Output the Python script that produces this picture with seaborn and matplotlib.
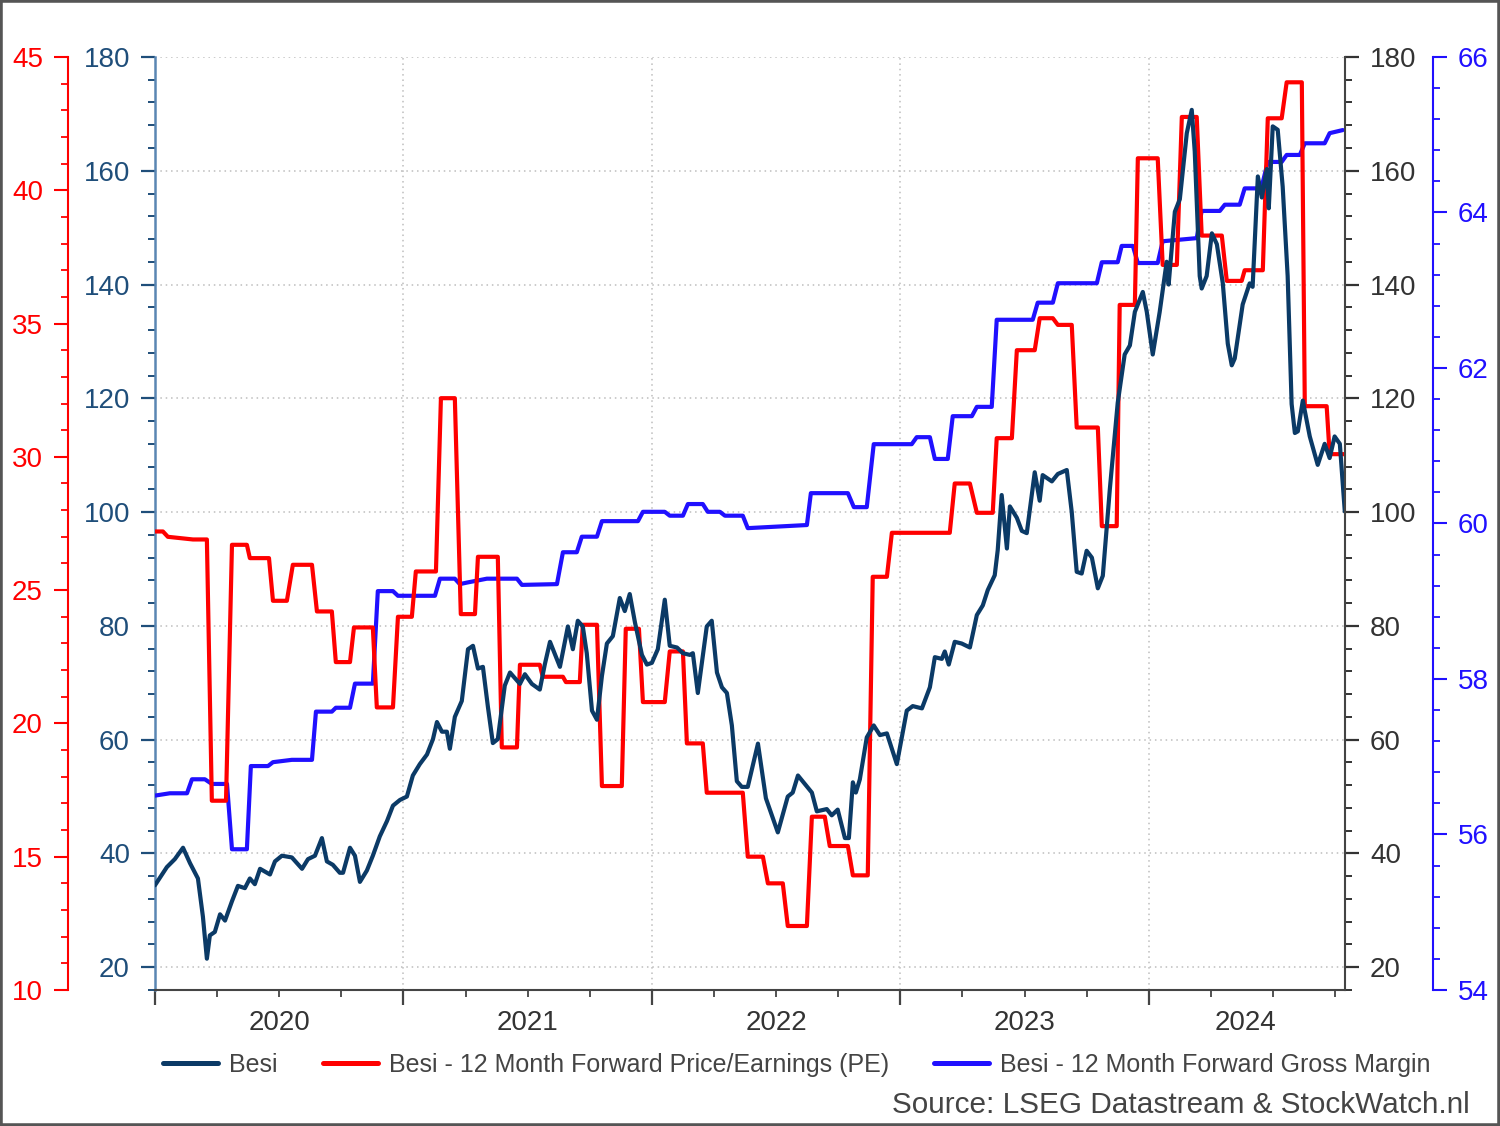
import matplotlib
matplotlib.use("Agg")
import matplotlib.pyplot as plt
from matplotlib.lines import Line2D
from matplotlib.patches import Rectangle
from matplotlib.ticker import MultipleLocator
import matplotlib.transforms as mtransforms
import numpy as np
import pandas as pd
import seaborn as sns

# ---- data (x = decimal year) ----
besi_t = [2020.000, 2020.048, 2020.080, 2020.113, 2020.141, 2020.173, 2020.193, 2020.209, 2020.221, 2020.241,
          2020.262, 2020.282, 2020.310, 2020.334, 2020.362, 2020.382, 2020.402, 2020.423, 2020.463, 2020.483,
          2020.511, 2020.551, 2020.592, 2020.616, 2020.644, 2020.672, 2020.692, 2020.716, 2020.744, 2020.757,
          2020.785, 2020.805, 2020.825, 2020.853, 2020.877, 2020.905, 2020.934, 2020.958, 2020.986, 2021.014,
          2021.038, 2021.066, 2021.095, 2021.119, 2021.135, 2021.155, 2021.175, 2021.187, 2021.207, 2021.235,
          2021.260, 2021.280, 2021.300, 2021.320, 2021.340, 2021.360, 2021.380, 2021.408, 2021.429, 2021.449,
          2021.469, 2021.489, 2021.517, 2021.549, 2021.569, 2021.590, 2021.630, 2021.662, 2021.682, 2021.702,
          2021.722, 2021.738, 2021.759, 2021.779, 2021.799, 2021.819, 2021.843, 2021.871, 2021.891, 2021.911,
          2021.932, 2021.960, 2021.980, 2022.000, 2022.024, 2022.052, 2022.072, 2022.101, 2022.125, 2022.153,
          2022.165, 2022.185, 2022.221, 2022.241, 2022.262, 2022.282, 2022.302, 2022.322, 2022.342, 2022.362,
          2022.386, 2022.427, 2022.459, 2022.507, 2022.547, 2022.567, 2022.588, 2022.644, 2022.664, 2022.704,
          2022.724, 2022.748, 2022.777, 2022.793, 2022.809, 2022.821, 2022.837, 2022.865, 2022.893, 2022.918,
          2022.946, 2022.986, 2023.026, 2023.050, 2023.087, 2023.119, 2023.139, 2023.167, 2023.179, 2023.195,
          2023.219, 2023.247, 2023.280, 2023.308, 2023.332, 2023.352, 2023.380, 2023.392, 2023.408, 2023.429,
          2023.441, 2023.469, 2023.489, 2023.509, 2023.541, 2023.561, 2023.573, 2023.610, 2023.634, 2023.670,
          2023.690, 2023.710, 2023.730, 2023.750, 2023.771, 2023.795, 2023.815, 2023.843, 2023.875, 2023.903,
          2023.924, 2023.944, 2023.976, 2023.992, 2024.016, 2024.044, 2024.072, 2024.080, 2024.105, 2024.125,
          2024.153, 2024.173, 2024.185, 2024.205, 2024.213, 2024.233, 2024.254, 2024.274, 2024.298, 2024.318,
          2024.334, 2024.346, 2024.378, 2024.406, 2024.418, 2024.439, 2024.455, 2024.475, 2024.483, 2024.499,
          2024.519, 2024.539, 2024.559, 2024.575, 2024.588, 2024.600, 2024.620, 2024.648, 2024.680, 2024.708,
          2024.728, 2024.748, 2024.769, 2024.789]
besi_price = [34.4, 37.6, 39.0, 41.0, 38.3, 35.6, 28.9, 21.5, 25.6, 26.2,
              29.3, 28.2, 31.6, 34.3, 33.9, 35.6, 34.6, 37.3, 36.3, 38.6,
              39.6, 39.3, 37.3, 39.0, 39.6, 42.7, 38.6, 38.0, 36.6, 36.6,
              41.0, 39.6, 35.0, 37.0, 39.6, 43.0, 45.7, 48.4, 49.4, 50.0,
              53.7, 55.7, 57.4, 60.1, 63.1, 61.4, 61.4, 58.4, 64.0, 66.8,
              75.9, 76.5, 72.5, 72.8, 65.8, 59.4, 60.1, 69.5, 71.8, 70.8,
              69.8, 71.5, 69.8, 68.8, 73.2, 77.2, 72.8, 79.9, 75.9, 80.9,
              79.9, 75.2, 65.1, 63.5, 71.2, 76.9, 78.2, 84.9, 82.6, 85.6,
              80.6, 74.9, 73.2, 73.5, 75.9, 84.6, 76.5, 76.2, 75.2, 74.9,
              75.2, 68.2, 79.9, 80.9, 71.8, 69.2, 68.2, 62.5, 52.7, 51.7,
              51.7, 59.3, 49.7, 43.7, 50.0, 50.7, 53.7, 50.7, 47.4, 47.8,
              46.7, 47.7, 42.7, 42.7, 52.5, 50.7, 53.0, 60.4, 62.5, 60.8,
              61.1, 55.7, 65.1, 65.9, 65.5, 69.2, 74.5, 74.2, 75.5, 73.2,
              77.2, 76.9, 76.2, 81.9, 83.6, 86.3, 88.9, 93.3, 103.0, 93.6,
              101.0, 99.0, 96.7, 96.3, 107.0, 102.0, 106.5, 105.4, 106.7, 107.4,
              100.0, 89.5, 89.2, 93.2, 92.0, 86.6, 88.8, 103.9, 119.2, 127.7,
              129.3, 135.2, 138.7, 135.2, 127.7, 135.2, 144.0, 140.0, 152.8, 155.0,
              166.6, 170.7, 163.4, 141.5, 139.3, 141.5, 149.0, 147.1, 140.2, 129.6,
              125.8, 127.0, 136.5, 140.2, 139.6, 159.0, 155.3, 160.3, 153.4, 167.8,
              167.2, 157.2, 141.5, 119.0, 113.9, 114.2, 119.6, 113.3, 108.3, 112.0,
              109.5, 113.3, 112.0, 100.1]

pe_t = [2020.000, 2020.032, 2020.052, 2020.153, 2020.209, 2020.229, 2020.286, 2020.310, 2020.370, 2020.382,
        2020.459, 2020.475, 2020.531, 2020.555, 2020.632, 2020.652, 2020.712, 2020.728, 2020.785, 2020.801,
        2020.877, 2020.893, 2020.958, 2020.978, 2021.034, 2021.050, 2021.131, 2021.151, 2021.207, 2021.231,
        2021.288, 2021.300, 2021.380, 2021.396, 2021.457, 2021.469, 2021.549, 2021.561, 2021.642, 2021.654,
        2021.710, 2021.722, 2021.779, 2021.799, 2021.879, 2021.895, 2021.948, 2021.964, 2022.052, 2022.072,
        2022.125, 2022.141, 2022.205, 2022.221, 2022.366, 2022.386, 2022.447, 2022.467, 2022.527, 2022.547,
        2022.624, 2022.644, 2022.696, 2022.716, 2022.789, 2022.809, 2022.869, 2022.889, 2022.946, 2022.966,
        2023.199, 2023.219, 2023.280, 2023.308, 2023.372, 2023.388, 2023.449, 2023.469, 2023.541, 2023.561,
        2023.614, 2023.634, 2023.690, 2023.710, 2023.795, 2023.811, 2023.871, 2023.883, 2023.944, 2023.956,
        2024.036, 2024.056, 2024.113, 2024.133, 2024.193, 2024.213, 2024.294, 2024.314, 2024.374, 2024.386,
        2024.459, 2024.479, 2024.535, 2024.555, 2024.616, 2024.628, 2024.716, 2024.728, 2024.789]
pe_value = [27.2, 27.2, 27.0, 26.9, 26.9, 17.1, 17.1, 26.7, 26.7, 26.2,
            26.2, 24.6, 24.6, 25.95, 25.95, 24.2, 24.2, 22.3, 22.3, 23.6,
            23.6, 20.6, 20.6, 24.0, 24.0, 25.7, 25.7, 32.2, 32.2, 24.1,
            24.1, 26.25, 26.25, 19.1, 19.1, 22.2, 22.2, 21.75, 21.75, 21.55,
            21.55, 23.7, 23.7, 17.65, 17.65, 23.55, 23.55, 20.8, 20.8, 22.7,
            22.7, 19.25, 19.25, 17.4, 17.4, 15.0, 15.0, 14.0, 14.0, 12.4,
            12.4, 16.5, 16.5, 15.4, 15.4, 14.3, 14.3, 25.5, 25.5, 27.15,
            27.15, 29.0, 29.0, 27.9, 27.9, 30.7, 30.7, 34.0, 34.0, 35.2,
            35.2, 34.95, 34.95, 31.1, 31.1, 27.4, 27.4, 35.7, 35.7, 41.2,
            41.2, 37.2, 37.2, 42.75, 42.75, 38.3, 38.3, 36.6, 36.6, 37.0,
            37.0, 42.7, 42.7, 44.05, 44.05, 31.9, 31.9, 30.1, 30.1]

gm_t = [2020.000, 2020.060, 2020.129, 2020.149, 2020.201, 2020.229, 2020.290, 2020.310, 2020.370, 2020.386,
        2020.455, 2020.475, 2020.551, 2020.632, 2020.648, 2020.712, 2020.728, 2020.785, 2020.805, 2020.877,
        2020.897, 2020.958, 2020.978, 2021.127, 2021.147, 2021.207, 2021.227, 2021.256, 2021.336, 2021.457,
        2021.477, 2021.618, 2021.642, 2021.698, 2021.718, 2021.779, 2021.799, 2021.944, 2021.964, 2022.052,
        2022.072, 2022.125, 2022.145, 2022.205, 2022.225, 2022.274, 2022.294, 2022.366, 2022.386, 2022.624,
        2022.640, 2022.789, 2022.813, 2022.865, 2022.893, 2023.046, 2023.066, 2023.119, 2023.139, 2023.191,
        2023.211, 2023.288, 2023.308, 2023.368, 2023.388, 2023.533, 2023.553, 2023.614, 2023.634, 2023.791,
        2023.811, 2023.875, 2023.891, 2023.936, 2023.956, 2024.036, 2024.056, 2024.193, 2024.213, 2024.286,
        2024.306, 2024.366, 2024.386, 2024.439, 2024.459, 2024.479, 2024.535, 2024.555, 2024.608, 2024.628,
        2024.708, 2024.728, 2024.781]
gm_value = [56.50, 56.53, 56.53, 56.71, 56.71, 56.65, 56.65, 55.81, 55.81, 56.88,
            56.88, 56.93, 56.96, 56.96, 57.58, 57.58, 57.63, 57.63, 57.94, 57.94,
            59.13, 59.13, 59.07, 59.07, 59.29, 59.29, 59.22, 59.24, 59.29, 59.29,
            59.21, 59.22, 59.63, 59.63, 59.83, 59.83, 60.03, 60.03, 60.15, 60.15,
            60.10, 60.10, 60.25, 60.25, 60.15, 60.15, 60.10, 60.10, 59.94, 59.98,
            60.39, 60.39, 60.21, 60.21, 61.02, 61.02, 61.11, 61.11, 60.83, 60.83,
            61.38, 61.38, 61.50, 61.50, 62.62, 62.62, 62.84, 62.84, 63.09, 63.09,
            63.36, 63.36, 63.57, 63.57, 63.35, 63.35, 63.63, 63.67, 64.02, 64.02,
            64.10, 64.10, 64.31, 64.31, 64.39, 64.65, 64.65, 64.74, 64.74, 64.89,
            64.89, 65.02, 65.06]

year_labels = ["2020", "2021", "2022", "2023", "2024"]
year_label_pos = [2020.5, 2021.5, 2022.5, 2023.5, 2024.39]
series_names = ["Besi", "Besi - 12 Month Forward Price/Earnings (PE)",
                "Besi - 12 Month Forward Gross Margin"]

besi_df = pd.DataFrame({"t": besi_t, "v": besi_price})
pe_df = pd.DataFrame({"t": pe_t, "v": pe_value})
gm_df = pd.DataFrame({"t": gm_t, "v": gm_value})

# ---- style ----
sns.set_theme(style="white")
plt.rcParams["font.family"] = ["Liberation Sans", "DejaVu Sans"]

c_besi = "#0b3a66"
c_pe = "#ff0000"
c_gm = "#2010ff"
c_left = "#1f4e7a"
c_grey = "#333333"
tick_fs = 20
lw = 3.0

fig = plt.figure(figsize=(15, 11.26), dpi=100)
ax = fig.add_axes([0.1033, 0.1208, 0.7934, 0.8286])
ax_r = ax.twinx()
ax_pe = ax.twinx()
ax_gm = ax.twinx()

for a in (ax, ax_r, ax_pe, ax_gm):
    for s in a.spines.values():
        s.set_visible(False)

# draw the series
line_kw = dict(linewidth=lw, estimator=None, sort=False, solid_joinstyle="round", solid_capstyle="round")
sns.lineplot(data=gm_df, x="t", y="v", ax=ax_gm, color=c_gm, **line_kw)
sns.lineplot(data=pe_df, x="t", y="v", ax=ax_pe, color=c_pe, **line_kw)
sns.lineplot(data=besi_df, x="t", y="v", ax=ax_r, color=c_besi, **line_kw)
ax_gm.set_zorder(1)
ax_pe.set_zorder(2)
ax_r.set_zorder(3)

# x axis
ax.set_xlim(2020, 2024.79)
ax.xaxis.set_major_locator(MultipleLocator(1))
ax.xaxis.set_minor_locator(MultipleLocator(0.25))
ax.set_xticklabels([])
ax.spines["bottom"].set_visible(True)
ax.spines["bottom"].set_color("#444444")
ax.spines["bottom"].set_linewidth(1.5)
ax.tick_params(axis="x", which="major", direction="out", length=11, width=1.6, color="#444444", bottom=True)
ax.tick_params(axis="x", which="minor", direction="out", length=5, width=1.3, color="#444444", bottom=True)
trans = mtransforms.blended_transform_factory(ax.transData, ax.transAxes)
for lab, pos in zip(year_labels, year_label_pos):
    ax.text(pos, -0.035, lab, transform=trans, ha="center", va="center", fontsize=tick_fs, color=c_grey)

# price axes (left + right)
for a in (ax, ax_r):
    a.set_ylim(16, 180)
    a.set_yticks(np.arange(20, 181, 20))
    a.yaxis.set_minor_locator(MultipleLocator(4))
    a.set_xlabel("")
    a.set_ylabel("")
ax.spines["left"].set_visible(True)
ax.spines["left"].set_color("#5a86b3")
ax.spines["left"].set_linewidth(1.8)
ax.tick_params(axis="y", which="both", direction="out", colors=c_left, labelsize=tick_fs, left=True, pad=8)
ax.tick_params(axis="y", which="major", length=10, width=1.6)
ax.tick_params(axis="y", which="minor", length=5, width=1.4)

ax_r.spines["right"].set_visible(True)
ax_r.spines["right"].set_color("#444444")
ax_r.spines["right"].set_linewidth(1.5)
ax_r.tick_params(axis="y", which="both", direction="out", colors=c_grey, labelsize=tick_fs, right=True, pad=8)
ax_r.tick_params(axis="y", which="major", length=10, width=1.6)
ax_r.tick_params(axis="y", which="minor", length=5, width=1.4)

# PE axis (outer left)
ax_pe.set_ylim(10, 45)
ax_pe.set_yticks(np.arange(10, 46, 5))
ax_pe.yaxis.set_minor_locator(MultipleLocator(1))
ax_pe.yaxis.set_ticks_position("left")
ax_pe.yaxis.set_label_position("left")
ax_pe.spines["left"].set_visible(True)
ax_pe.spines["left"].set_position(("axes", -0.0731))
ax_pe.spines["left"].set_color(c_pe)
ax_pe.spines["left"].set_linewidth(1.5)
ax_pe.tick_params(axis="y", which="both", direction="out", colors=c_pe, labelsize=tick_fs, pad=8)
ax_pe.tick_params(axis="y", which="major", length=10, width=1.5)
ax_pe.tick_params(axis="y", which="minor", length=5, width=1.3)
ax_pe.set_ylabel("")

# gross margin axis (outer right)
ax_gm.set_ylim(54, 66)
ax_gm.set_yticks(np.arange(54, 67, 2))
ax_gm.yaxis.set_minor_locator(MultipleLocator(0.4))
ax_gm.spines["right"].set_visible(True)
ax_gm.spines["right"].set_position(("axes", 1.0739))
ax_gm.spines["right"].set_color(c_gm)
ax_gm.spines["right"].set_linewidth(1.5)
ax_gm.tick_params(axis="y", which="both", direction="out", colors=c_gm, labelsize=tick_fs, right=True, pad=8)
ax_gm.tick_params(axis="y", which="major", length=10, width=1.5)
ax_gm.tick_params(axis="y", which="minor", length=5, width=1.3)
ax_gm.set_ylabel("")

# dotted grid on the host axes
ax.grid(True, which="major", axis="both", linestyle=(0, (1, 2.5)), color="#bdbdbd", linewidth=1.1)

# legend + source
handles = [Line2D([], [], color=c_besi, lw=3.6),
           Line2D([], [], color=c_pe, lw=3.6),
           Line2D([], [], color=c_gm, lw=3.6)]
fig.legend(handles, series_names, loc="center left", bbox_to_anchor=(0.1087, 0.0542), ncol=3,
           frameon=False, fontsize=18, handlelength=2.2, handletextpad=0.45, columnspacing=1.8,
           borderpad=0, borderaxespad=0, labelcolor="#444444")
fig.text(0.98, 0.0187, "Source: LSEG Datastream & StockWatch.nl", ha="right", va="center",
         fontsize=21.4, color="#444444")

fig.patches.append(Rectangle((0, 0), 1, 1, transform=fig.transFigure, fill=False,
                             edgecolor="#555555", linewidth=4))

fig.savefig("out.png", dpi=100)
